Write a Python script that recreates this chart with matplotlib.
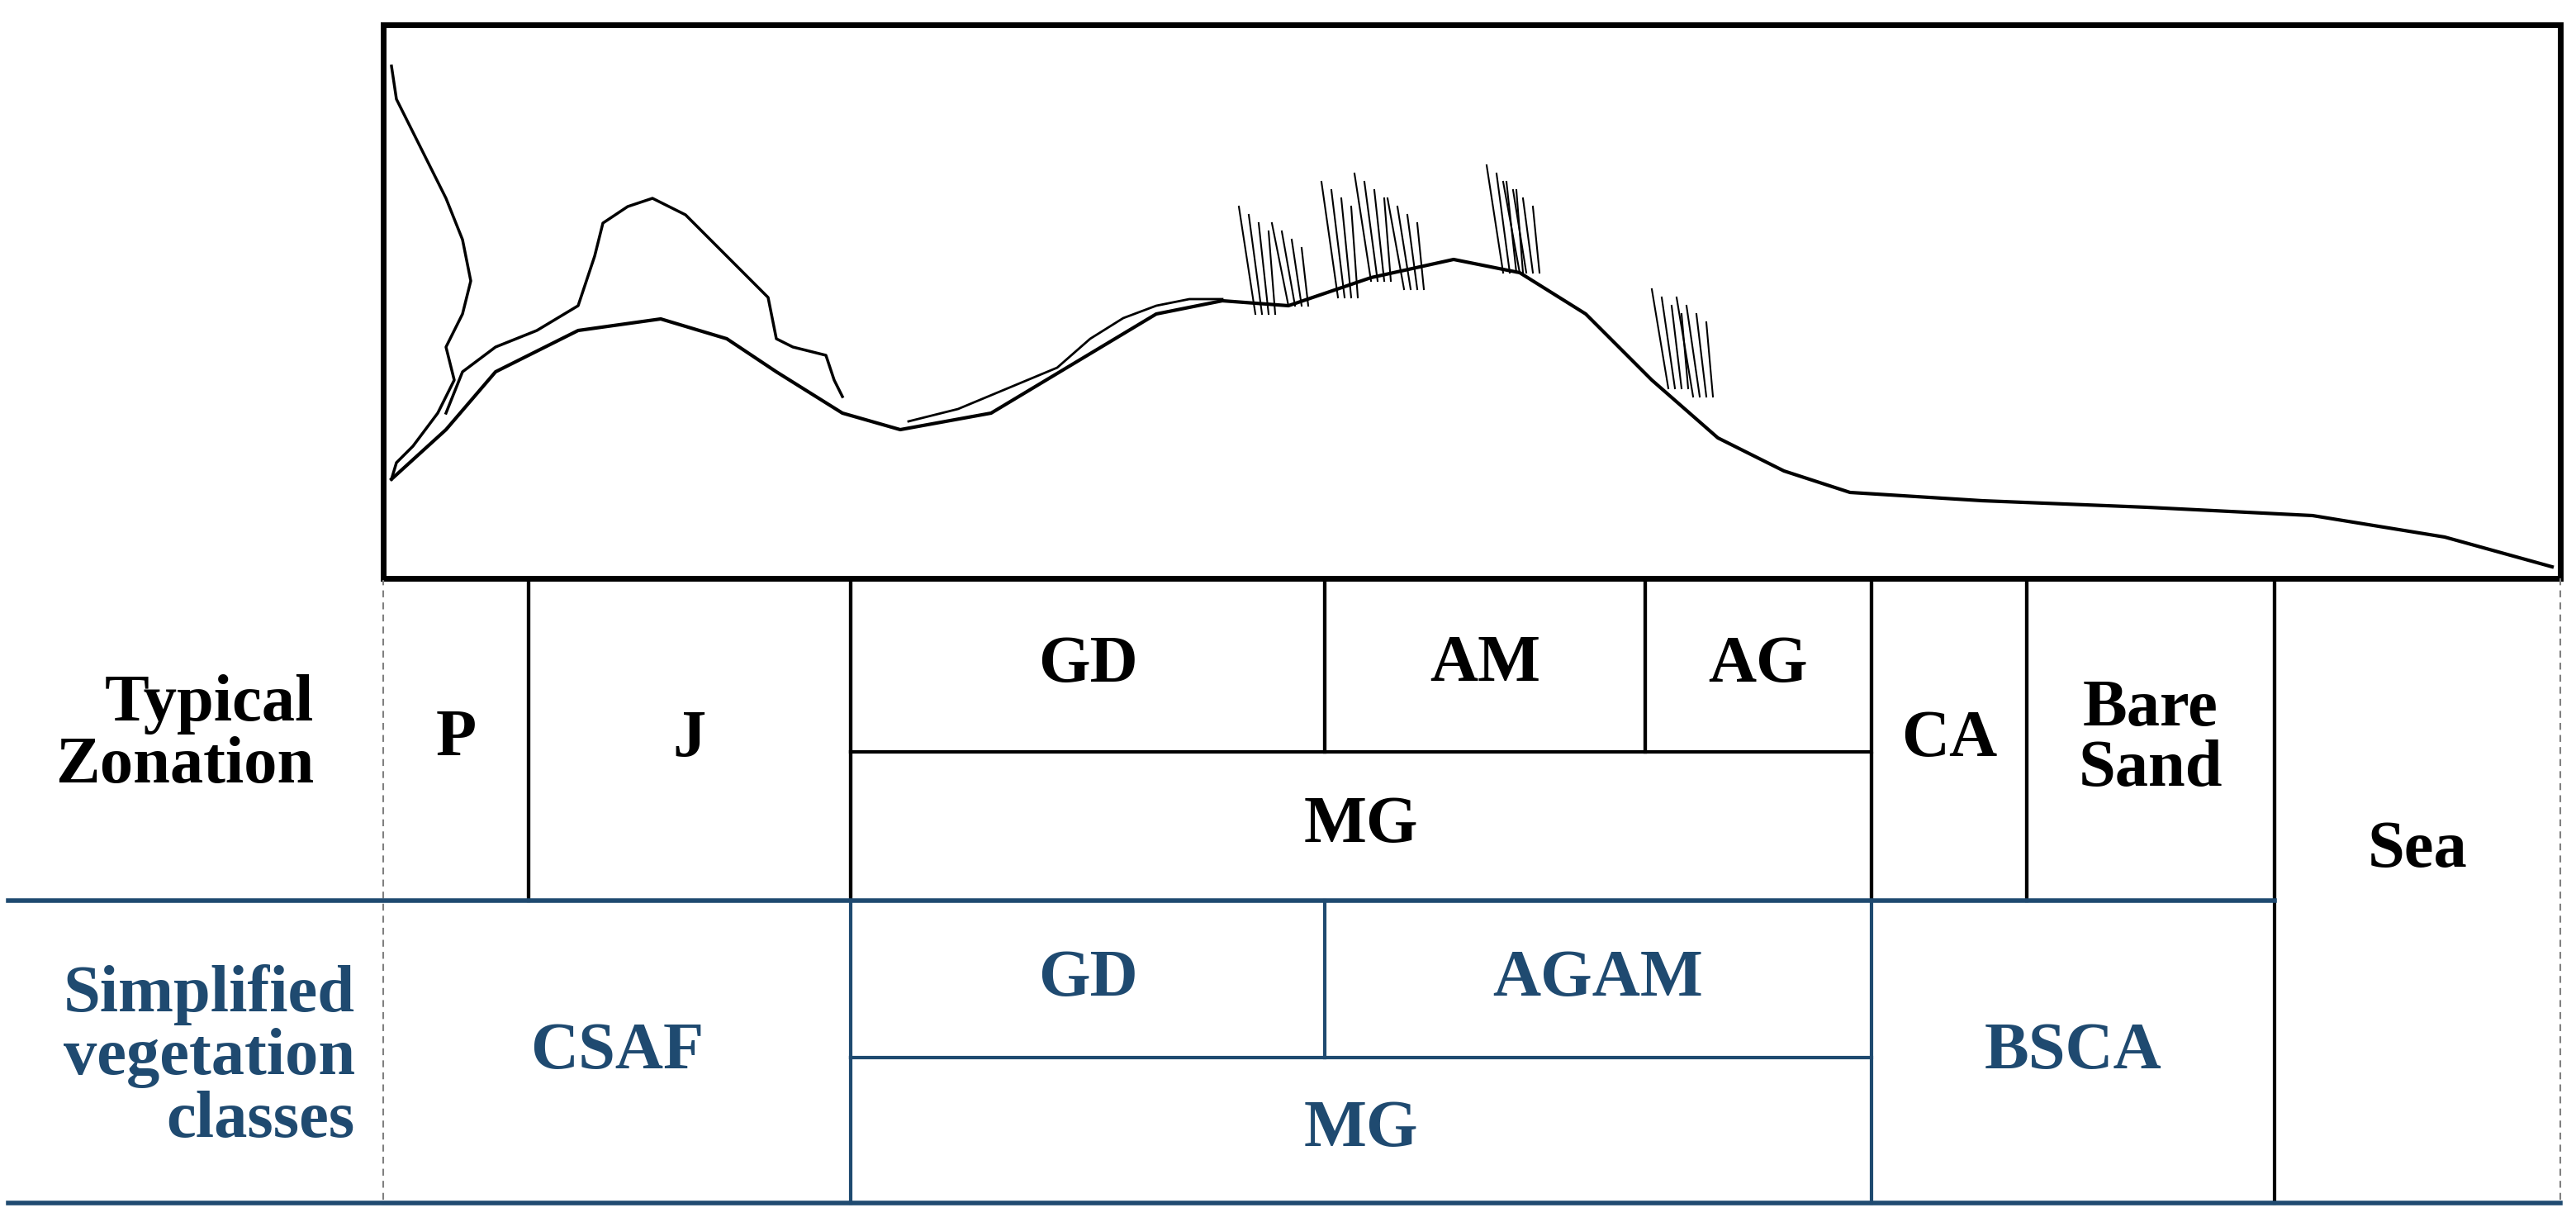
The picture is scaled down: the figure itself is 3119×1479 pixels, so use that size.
import matplotlib.pyplot as plt
from matplotlib.patches import Rectangle

# dune profile (pixel space of the sketch, y down)
ground_x = [474, 540, 600, 700, 800, 880, 940, 1020, 1090, 1200, 1300, 1400, 1480, 1560,
            1660, 1760, 1840, 1920, 2000, 2080, 2160, 2240, 2400, 2600, 2800, 2960, 3090]
ground_y = [580, 520, 450, 400, 386, 410, 450, 500, 520, 500, 440, 380, 364, 370,
            336, 314, 330, 380, 460, 530, 570, 596, 606, 614, 624, 650, 686]

# shrub / tree outlines
bush1_x = [540, 560, 600, 650, 700, 720, 730, 760, 790, 830, 870, 900, 930, 940, 960, 1000, 1010, 1020]
bush1_y = [500, 450, 420, 400, 370, 310, 270, 250, 240, 260, 300, 330, 360, 410, 420, 430, 460, 480]
tree_x = [474, 480, 500, 520, 540, 560, 570, 560, 540, 550, 530, 500, 480, 474]
tree_y = [80, 120, 160, 200, 240, 290, 340, 380, 420, 460, 500, 540, 560, 580]
shrub2_x = [1100, 1160, 1220, 1280, 1320, 1360, 1400, 1440, 1480]
shrub2_y = [510, 495, 470, 445, 410, 385, 370, 362, 362]

grass_x = [1520, 1560, 1620, 1660, 1700, 1820, 1840, 2020, 2050]
grass_top = [250, 270, 220, 210, 240, 200, 220, 350, 360]
grass_bot = [380, 370, 360, 340, 350, 330, 330, 470, 480]

# table layout
edges = [464, 640, 1030, 1604, 1992, 2266, 2454, 2754, 3100]
rows = [700, 910, 1090, 1280, 1456]
blue = '#1f4a70'

typical = [("P", 0, 1, 0, 2), ("J", 1, 2, 0, 2), ("GD", 2, 3, 0, 1), ("AM", 3, 4, 0, 1),
           ("AG", 4, 5, 0, 1), ("MG", 2, 5, 1, 2), ("CA", 5, 6, 0, 2),
           ("Bare\nSand", 6, 7, 0, 2)]
simplified = [("CSAF", 0, 2, 2, 4), ("GD", 2, 3, 2, 3), ("AGAM", 3, 5, 2, 3),
              ("MG", 2, 5, 3, 4), ("BSCA", 5, 7, 2, 4)]

fig = plt.figure(figsize=(31.19, 14.79), dpi=100)
ax = fig.add_axes([0, 0, 1, 1])
ax.set_xlim(0, 3119)
ax.set_ylim(1479, 0)
ax.axis('off')

font = dict(family='Liberation Serif', fontweight='bold', fontsize=58)

# sketch box
ax.add_patch(Rectangle((464, 30), 3100 - 464, 670, fill=False, lw=5, ec='black'))
ax.plot(ground_x, ground_y, color='black', lw=3)
ax.plot(bush1_x, bush1_y, color='black', lw=2.5)
ax.plot(tree_x, tree_y, color='black', lw=2.5)
ax.plot(shrub2_x, shrub2_y, color='black', lw=2)
for gx, gt, gb in zip(grass_x, grass_top, grass_bot):
    for k in range(4):
        ax.plot([gx + k * 8, gx + k * 12 - 20], [gb, gt + k * 10], color='black', lw=1.5)

# dashed sides
for x in (edges[0], edges[-1]):
    ax.plot([x, x], [rows[0], rows[-1]], color='gray', lw=1.5, ls=(0, (4, 3)))

# typical zonation cells
for lab, c0, c1, r0, r1 in typical:
    x0, x1, y0, y1 = edges[c0], edges[c1], rows[r0], rows[r1]
    ax.plot([x0, x1, x1], [y0, y0, y1], color='black', lw=3)
    if c0 > 0:
        ax.plot([x0, x0], [y0, y1], color='black', lw=3)
    ax.text((x0 + x1) / 2, (y0 + y1) / 2, lab, ha='center', va='center', linespacing=1.0, **font)
ax.text((edges[7] + edges[8]) / 2, 1030, "Sea", ha='center', va='center', **font)

# simplified classes
for lab, c0, c1, r0, r1 in simplified:
    x0, x1, y0, y1 = edges[c0], edges[c1], rows[r0], rows[r1]
    if c0 > 0:
        ax.plot([x0, x0], [y0, y1], color=blue, lw=3)
    ax.plot([x0, x1], [y1, y1], color=blue, lw=3)
    ax.text((x0 + x1) / 2, (y0 + y1) / 2, lab, ha='center', va='center', color=blue, **font)
ax.plot([edges[7], edges[7]], [rows[0], rows[-1]], color='black', lw=3)
ax.plot([10, edges[7]], [rows[2], rows[2]], color=blue, lw=4)
ax.plot([10, edges[-1]], [rows[-1], rows[-1]], color=blue, lw=4)

ax.text(380, 890, "Typical\nZonation", ha='right', va='center', linespacing=1.05, **font)
ax.text(430, 1280, "Simplified\nvegetation\nclasses", ha='right', va='center',
        linespacing=1.05, color=blue, **font)

fig.savefig("out.png", dpi=100)
